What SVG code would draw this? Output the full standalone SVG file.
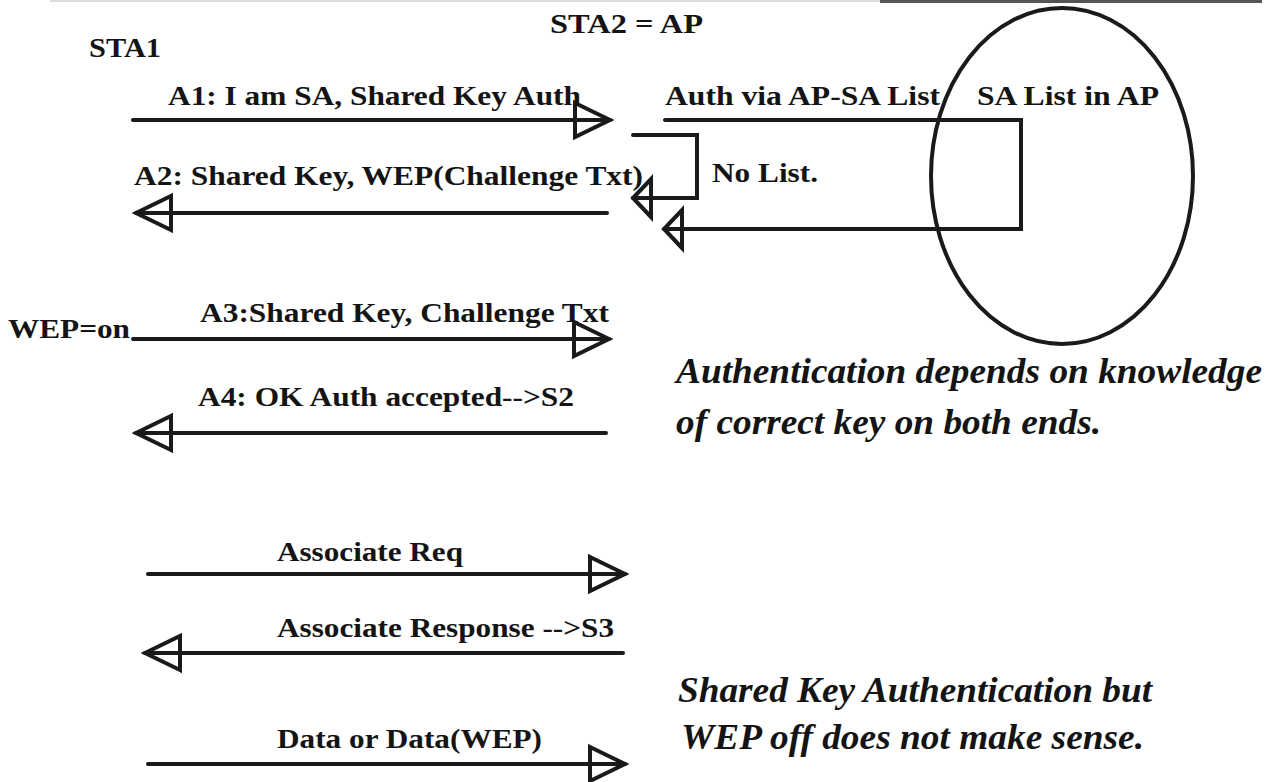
<svg xmlns="http://www.w3.org/2000/svg" width="1266" height="782" viewBox="0 0 1266 782">
<defs>
<style>
.lbl{font-family:"Liberation Serif","Times New Roman",serif;font-weight:bold;font-size:27px;fill:#141414}
.note{font-family:"Liberation Serif","Times New Roman",serif;font-weight:bold;font-style:italic;font-size:35px;fill:#141414}
.ln{fill:none;stroke:#1a1a1a;stroke-width:4;stroke-linecap:round}
.shape{fill:none;stroke:#1a1a1a;stroke-width:4}
</style>
<marker id="ah" viewBox="-4 -22 44 44" markerWidth="44" markerHeight="44" refX="36" refY="0" orient="auto" markerUnits="userSpaceOnUse">
<path d="M1,-17 L36,0 L1,17 Z" fill="none" stroke="#1a1a1a" stroke-width="4"/>
</marker>
<marker id="ahs" viewBox="-4 -25 28 50" markerWidth="28" markerHeight="50" refX="19" refY="0" orient="auto" markerUnits="userSpaceOnUse">
<path d="M1,-19 L19,0 L1,19 Z" fill="none" stroke="#1a1a1a" stroke-width="4"/>
</marker>
</defs>
<rect width="1266" height="782" fill="#ffffff"/>
<rect x="50" y="0" width="830" height="2" fill="#dcdcdc"/>
<rect x="880" y="0" width="382" height="3" fill="#555555"/>

<g id="sta1"><text class="lbl" x="89" y="57" textLength="72" lengthAdjust="spacingAndGlyphs">STA1</text></g>
<g id="sta2"><text class="lbl" x="550" y="33" textLength="153" lengthAdjust="spacingAndGlyphs">STA2 = AP</text></g>
<g id="sa-list">
<ellipse class="shape" cx="1062" cy="176" rx="131" ry="168"/>
<text class="lbl" x="977" y="105" textLength="182" lengthAdjust="spacingAndGlyphs">SA List in AP</text>
</g>

<g id="connectors">
<path class="ln" d="M133,120 H610" marker-end="url(#ah)"/>
<path class="ln" d="M607,213 H136" marker-end="url(#ah)"/>
<path class="ln" d="M633,135 H697 V198 H633" marker-end="url(#ahs)"/>
<path class="ln" d="M665,120 H1021 V229 H664" marker-end="url(#ahs)"/>
<path class="ln" d="M133,339 H609" marker-end="url(#ah)"/>
<path class="ln" d="M606,433 H136" marker-end="url(#ah)"/>
<path class="ln" d="M148,574 H625" marker-end="url(#ah)"/>
<path class="ln" d="M623,653 H145" marker-end="url(#ah)"/>
<path class="ln" d="M148,764 H625" marker-end="url(#ah)"/>
</g>

<g id="msg-a1"><text class="lbl" x="168" y="105" textLength="413" lengthAdjust="spacingAndGlyphs">A1: I am SA, Shared Key Auth</text></g>
<g id="msg-a2"><text class="lbl" x="134" y="185" textLength="509" lengthAdjust="spacingAndGlyphs">A2: Shared Key, WEP(Challenge Txt)</text></g>
<g id="auth-list"><text class="lbl" x="665" y="105" textLength="275" lengthAdjust="spacingAndGlyphs">Auth via AP-SA List</text></g>
<g id="no-list"><text class="lbl" x="712" y="182" textLength="106" lengthAdjust="spacingAndGlyphs">No List.</text></g>
<g id="wep-on"><text class="lbl" x="8" y="338" textLength="122" lengthAdjust="spacingAndGlyphs">WEP=on</text></g>
<g id="msg-a3"><text class="lbl" x="200" y="322" textLength="409" lengthAdjust="spacingAndGlyphs">A3:Shared Key, Challenge Txt</text></g>
<g id="msg-a4"><text class="lbl" x="198" y="406" textLength="376" lengthAdjust="spacingAndGlyphs">A4: OK Auth accepted--&gt;S2</text></g>
<g id="msg-assoc-req"><text class="lbl" x="277" y="561" textLength="186" lengthAdjust="spacingAndGlyphs">Associate Req</text></g>
<g id="msg-assoc-resp"><text class="lbl" x="277" y="637" textLength="337" lengthAdjust="spacingAndGlyphs">Associate Response --&gt;S3</text></g>
<g id="msg-data"><text class="lbl" x="277" y="748" textLength="265" lengthAdjust="spacingAndGlyphs">Data or Data(WEP)</text></g>

<g id="note-auth">
<text class="note" x="676" y="383" textLength="586" lengthAdjust="spacingAndGlyphs">Authentication depends on knowledge</text>
<text class="note" x="676" y="434" textLength="425" lengthAdjust="spacingAndGlyphs">of correct key on both ends.</text>
</g>
<g id="note-wep">
<text class="note" x="678" y="702" textLength="474" lengthAdjust="spacingAndGlyphs">Shared Key Authentication but</text>
<text class="note" x="681" y="749" textLength="463" lengthAdjust="spacingAndGlyphs">WEP off does not make sense.</text>
</g>
</svg>
